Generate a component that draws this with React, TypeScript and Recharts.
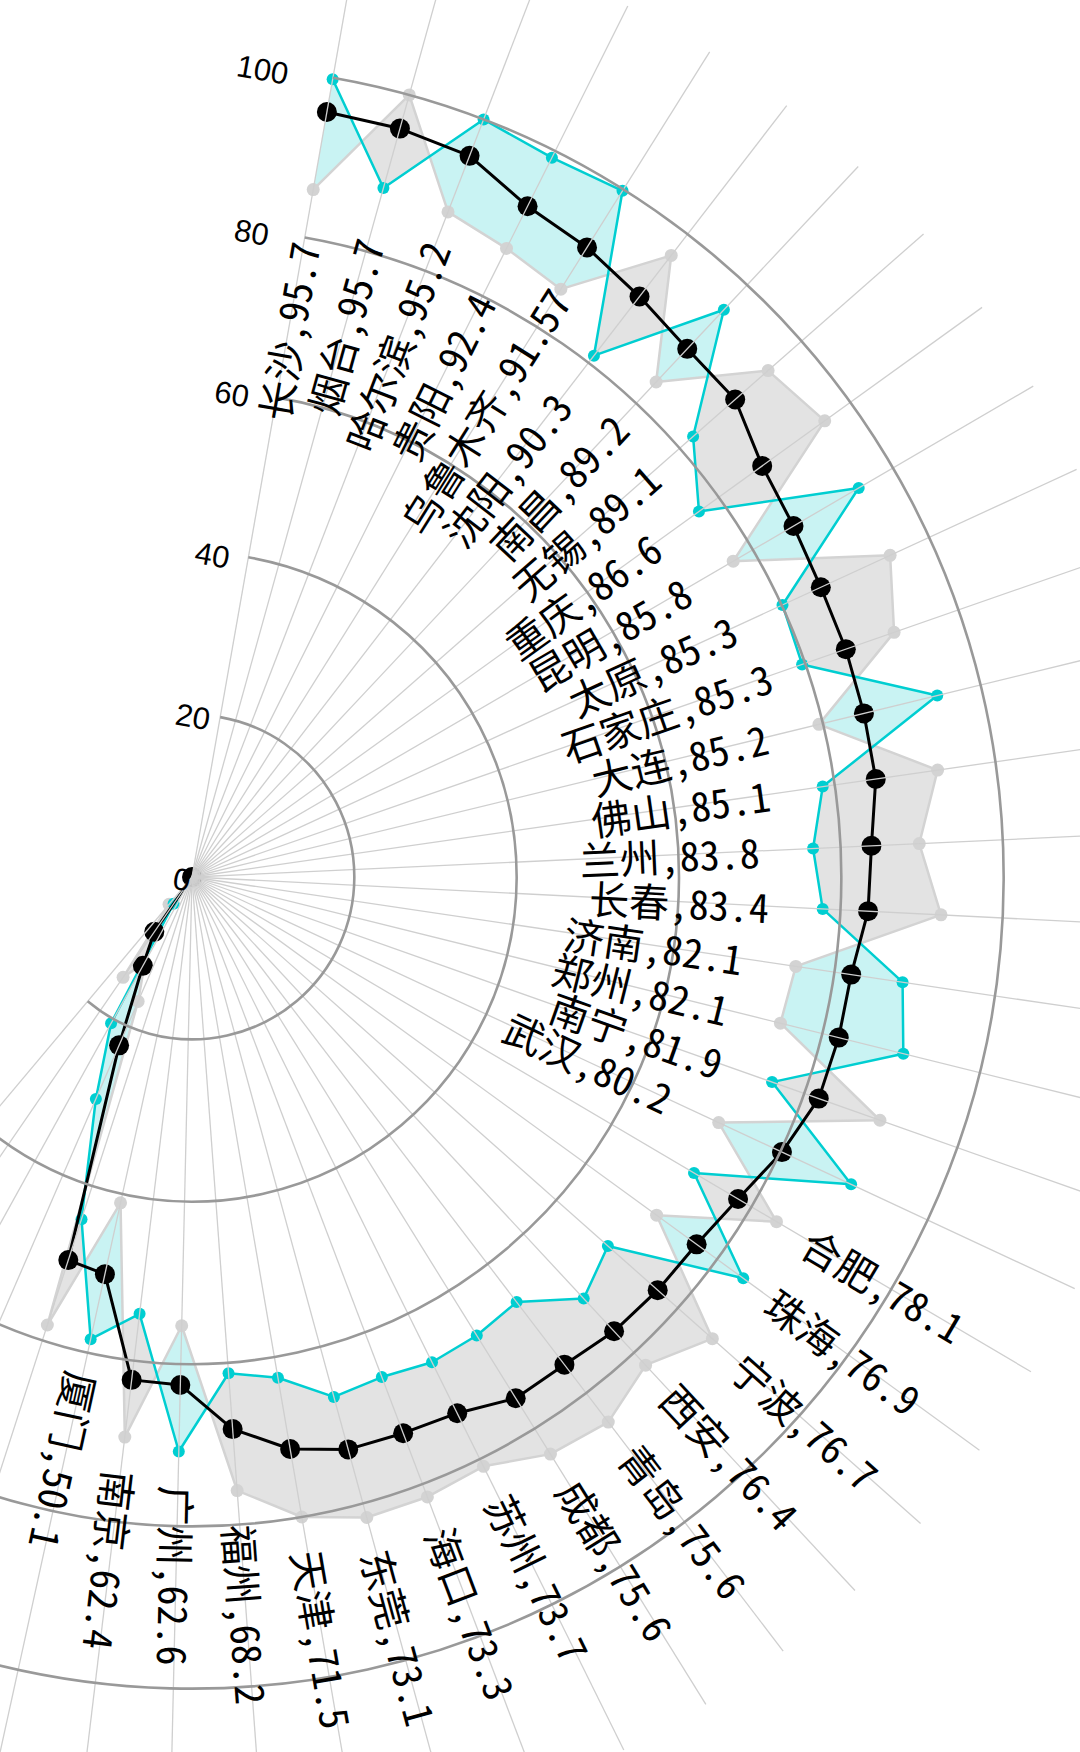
import React from 'react';
import { RadarChart, Radar, PolarGrid, PolarAngleAxis, PolarRadiusAxis } from 'recharts';

// city names (the last five spokes carry no label)
const cities = [
  '长沙', '烟台', '哈尔滨', '贵阳', '乌鲁木齐', '沈阳', '南昌', '无锡', '重庆', '昆明',
  '太原', '石家庄', '大连', '佛山', '兰州', '长春', '济南', '郑州', '南宁', '武汉',
  '合肥', '珠海', '宁波', '西安', '青岛', '成都', '苏州', '海口', '东莞', '天津',
  '福州', '广州', '南京', '厦门', '', '', '', '', '',
];

// black series (the labelled score)
const scores = [
  95.7, 95.7, 95.2, 92.4, 91.57, 90.3, 89.2, 89.1, 86.6, 85.8,
  85.3, 85.3, 85.2, 85.1, 83.8, 83.4, 82.1, 82.1, 81.9, 80.2,
  78.1, 76.9, 76.7, 76.4, 75.6, 75.6, 73.7, 73.3, 73.1, 71.5,
  68.2, 62.6, 62.4, 50.1, 49.6, 22.6, 12.5, 8.2, null,
];

// cyan series
const cyanValues = [
  99.8, 88.1, 100, 99.1, 99.8, 81.1, 95.8, 82.2, 77.0, 95.1,
  80.1, 79.6, 94.5, 78.5, 76.6, 77.8, 88.5, 90.3, 75.8, 89.6,
  71.8, 84.0, 68.5, 70.9, 65.9, 66.5, 66.7, 65.9, 66.4, 62.6,
  61.3, 70.8, 54.2, 58.3, 44.3, 29.8, 20.6, 4, 0,
];

// light gray series
const grayValues = [
  86.0, 100, 87.8, 86.6, 85.5, 96.7, 83.6, 94.5, 96.1, 77.2,
  94.7, 91.6, 79.5, 92.8, 89.7, 92.4, 75.2, 74.7, 89.9, 71.6,
  83.6, 70.8, 85.7, 82.1, 84.5, 83.7, 81.0, 81.7, 81.8, 80.0,
  75.8, 55.3, 69.5, 41.1, 58.0, 16.7, 12.0, 15.0, 4.4,
];

const radiusTicks = [0, 20, 40, 60, 80, 100];

const data = cities.map((city, i) => ({
  key: `c${i}`,
  city,
  score: scores[i],
  cyan: cyanValues[i],
  gray: grayValues[i],
}));

const CX = 192;
const CY = 877;
const OUTER = 974;
const START = 80;
const STEP = 210 / 38;
const END = START - STEP * cities.length;
const INNER_LABELS = 20;

const CYAN = '#00ced1';
const LIGHT_CYAN = '#c9f3f3';
const GRAY = '#d3d3d3';
const LIGHT_GRAY = '#e3e3e3';
const LABEL_FONT = "'Noto Sans Mono CJK SC', 'Noto Sans CJK SC', sans-serif";
const TICK_FONT = "'Liberation Sans', Arial, sans-serif";

const RAD = Math.PI / 180;
const toXY = (cx: number, cy: number, r: number, angle: number) => ({
  x: cx + r * Math.cos(-angle * RAD),
  y: cy + r * Math.sin(-angle * RAD),
});

const ok = (p: any) => Number.isFinite(p.x) && Number.isFinite(p.y);

const wedgePath = (points: any[]) => {
  const pts = points.filter(ok);
  if (!pts.length) return '';
  return `M${pts[0].cx},${pts[0].cy}` + pts.map((p) => `L${p.x},${p.y}`).join('') + 'Z';
};

// pixels per value unit, read back from the radius scale
const unitOf = (points: any[]) => {
  const p = points.find((q) => ok(q) && q.value > 0);
  return p ? p.radius / p.value : 0;
};

const bigBox = { x: -3000, y: -3000, width: 8000, height: 8000 };

const GrayFill = (props: any) => {
  const d = wedgePath(props.points);
  return (
    <g>
      <defs>
        <mask id="notGray" maskUnits="userSpaceOnUse" {...bigBox}>
          <rect {...bigBox} fill="#fff" />
          <path d={d} fill="#000" />
        </mask>
      </defs>
      <path d={d} fill={LIGHT_GRAY} stroke="none" mask="url(#notCyan)" />
    </g>
  );
};

const CyanFill = (props: any) => {
  const d = wedgePath(props.points);
  return (
    <g>
      <defs>
        <mask id="notCyan" maskUnits="userSpaceOnUse" {...bigBox}>
          <rect {...bigBox} fill="#fff" />
          <path d={d} fill="#000" />
        </mask>
      </defs>
      <path d={d} fill={LIGHT_CYAN} stroke="none" mask="url(#notGray)" />
    </g>
  );
};

const seriesShape = (stroke: string, width: number, r: number, dot: string) => (props: any) => {
  const pts = props.points.filter(ok);
  const d = pts.map((p: any, i: number) => `${i ? 'L' : 'M'}${p.x},${p.y}`).join('');
  return (
    <g>
      <path d={d} fill="none" stroke={stroke} strokeWidth={width} strokeLinejoin="round" />
      {pts.map((p: any, i: number) => (
        <circle key={i} cx={p.x} cy={p.y} r={r} fill={dot} />
      ))}
    </g>
  );
};

const ArcsShape = (props: any) => {
  const pts = props.points;
  const k = unitOf(pts);
  const { cx, cy } = pts[0];
  const a0 = pts[0].angle;
  const a1 = pts[pts.length - 1].angle;
  const large = Math.abs(a0 - a1) > 180 ? 1 : 0;
  return (
    <g>
      {radiusTicks.filter((t) => t > 0).map((t) => {
        const r = k * t;
        const s = toXY(cx, cy, r, a0);
        const e = toXY(cx, cy, r, a1);
        return (
          <path
            key={t}
            d={`M${s.x},${s.y}A${r},${r} 0 ${large} 1 ${e.x},${e.y}`}
            fill="none"
            stroke="#999"
            strokeWidth={2.6}
          />
        );
      })}
    </g>
  );
};

const LabelsShape = (props: any) => {
  const pts = props.points;
  const k = unitOf(pts);
  return (
    <g>
      {pts.map((p: any, i: number) => {
        const { city, score, cyan, gray } = p.payload;
        if (!city) return null;
        const vals = [score, cyan, gray];
        const r = i < INNER_LABELS ? k * (Math.min(...vals) - 17.7) : k * (Math.max(...vals) + 15.3);
        const c = toXY(p.cx, p.cy, r, p.angle);
        return (
          <text
            key={i}
            x={c.x}
            y={c.y}
            transform={`rotate(${-p.angle},${c.x},${c.y})`}
            textAnchor="middle"
            dominantBaseline="central"
            fontSize={40}
            fontFamily={LABEL_FONT}
            fill="#000"
          >
            {`${city},${score}`}
          </text>
        );
      })}
    </g>
  );
};

const RadiusTick = (props: any) => {
  const { x, y, payload } = props;
  const r = Math.hypot(x - CX, y - CY);
  return (
    <text
      x={x}
      y={y}
      dx={-(0.054 * r + 1)}
      dy={4.5}
      textAnchor="end"
      dominantBaseline="central"
      transform={`rotate(${90 - START},${x},${y})`}
      fontSize={31}
      fontFamily={TICK_FONT}
      fill="#000"
    >
      {payload.value}
    </text>
  );
};

export default function App() {
  return (
    <div style={{ position: 'absolute', left: 0, top: 0, width: 1080, height: 1752, background: '#fff' }}>
      <RadarChart
        width={1080}
        height={1752}
        data={data}
        cx={CX}
        cy={CY}
        innerRadius={0}
        outerRadius={OUTER}
        startAngle={START}
        endAngle={END}
        margin={{ top: 0, right: 0, bottom: 0, left: 0 }}
      >
        <PolarAngleAxis dataKey="key" tick={false} axisLine={false} />
        <Radar dataKey="gray" shape={GrayFill} isAnimationActive={false} />
        <Radar dataKey="cyan" shape={CyanFill} isAnimationActive={false} />
        <Radar dataKey="gray" shape={seriesShape(GRAY, 2.5, 6.5, GRAY)} isAnimationActive={false} />
        <Radar dataKey="cyan" shape={seriesShape(CYAN, 2.5, 6, CYAN)} isAnimationActive={false} />
        <Radar dataKey="score" shape={seriesShape('#000', 3, 10, '#000')} isAnimationActive={false} />
        <PolarGrid gridType="circle" polarRadius={[]} stroke="#cfcfcf" strokeWidth={1.3} zIndex={450} />
        <Radar dataKey="score" shape={ArcsShape} isAnimationActive={false} zIndex={460} />
        <PolarRadiusAxis
          angle={START}
          domain={[0, 120]}
          ticks={radiusTicks}
          axisLine={false}
          tick={RadiusTick}
        />
        <Radar dataKey="score" shape={LabelsShape} isAnimationActive={false} zIndex={2000} />
      </RadarChart>
    </div>
  );
}
